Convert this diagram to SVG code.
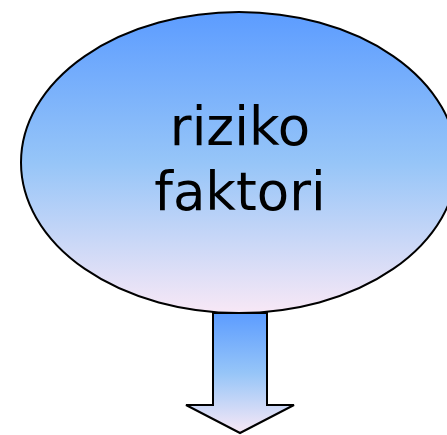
<svg xmlns="http://www.w3.org/2000/svg" width="447" height="435" viewBox="0 0 447 435">
<defs>
<linearGradient id="g" x1="0" y1="0" x2="0" y2="1">
<stop offset="0" stop-color="#5c9cff"/>
<stop offset="0.5" stop-color="#96c5f8"/>
<stop offset="1" stop-color="#f8e8f6"/>
</linearGradient>
</defs>
<style>
.shape{fill:url(#g);stroke:#000;stroke-width:2}
.lbl{font-family:"DejaVu Sans",sans-serif;font-size:53px;fill:#000;text-anchor:middle}
</style>
<g id="connectors">
<path class="shape" d="M213,313 L267,313 L267,405 L294,405 L240,433 L186,405 L213,405 Z"/>
</g>
<g id="node-riziko">
<ellipse class="shape" cx="239" cy="162.5" rx="218" ry="150.5"/>
<text class="lbl" x="240" y="145">riziko</text>
<text class="lbl" x="240" y="210">faktori</text>
</g>
</svg>
